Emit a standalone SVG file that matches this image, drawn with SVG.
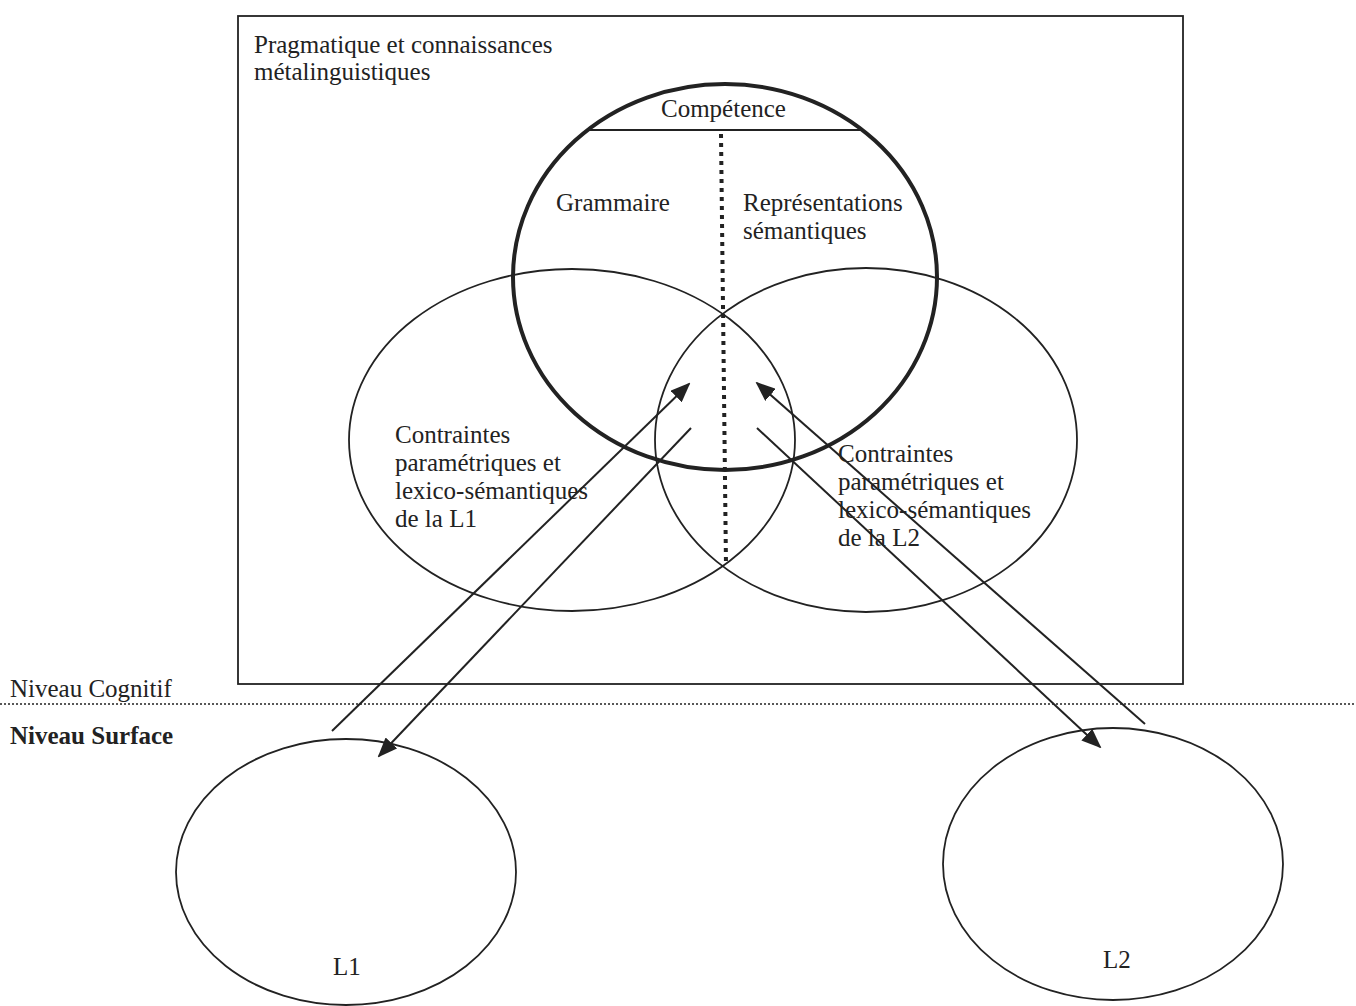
<svg xmlns="http://www.w3.org/2000/svg" width="1356" height="1006" viewBox="0 0 1356 1006">
<style>
text{font-family:"Liberation Serif","Times New Roman",serif;font-size:25px;fill:#222}
.thin{fill:none;stroke:#222;stroke-width:1.8}
.arr{fill:none;stroke:#222;stroke-width:2}
</style>
<defs>
<marker id="ah" viewBox="0 0 20 16" refX="18" refY="8" markerWidth="20" markerHeight="16" markerUnits="userSpaceOnUse" orient="auto">
<path d="M0,0 L20,8 L0,16 Z" fill="#222"/>
</marker>
</defs>
<rect width="1356" height="1006" fill="#fff"/>
<g id="cadre">
<rect x="238" y="16" width="945" height="668" class="thin" stroke-width="2"/>
<text x="254" y="53">Pragmatique et connaissances</text>
<text x="254" y="80">métalinguistiques</text>
</g>
<g id="contraintes-l1">
<ellipse cx="572" cy="440" rx="223" ry="171" class="thin"/>
<text x="395" y="443">Contraintes</text>
<text x="395" y="471">paramétriques et</text>
<text x="395" y="499">lexico-sémantiques</text>
<text x="395" y="527">de la L1</text>
</g>
<g id="contraintes-l2">
<ellipse cx="866" cy="440" rx="211" ry="172" class="thin"/>
<text x="838" y="462">Contraintes</text>
<text x="838" y="490">paramétriques et</text>
<text x="838" y="518">lexico-sémantiques</text>
<text x="838" y="546">de la L2</text>
</g>
<g id="competence">
<ellipse cx="725" cy="277" rx="212" ry="193" fill="none" stroke="#222" stroke-width="4"/>
<line x1="586" y1="130" x2="862" y2="130" class="thin"/>
<text x="661" y="117">Compétence</text>
<text x="556" y="211">Grammaire</text>
<text x="743" y="211">Représentations</text>
<text x="743" y="239">sémantiques</text>
<line x1="721" y1="134" x2="726" y2="566" stroke="#222" stroke-width="4" stroke-dasharray="4,5"/>
</g>
<g id="niveaux">
<line x1="0" y1="704" x2="1356" y2="704" stroke="#222" stroke-width="1.5" stroke-dasharray="2,2"/>
<text x="10" y="697">Niveau Cognitif</text>
<text x="10" y="744" font-weight="bold">Niveau Surface</text>
</g>
<g id="l1">
<ellipse cx="346" cy="872" rx="170" ry="133" class="thin"/>
<text x="333" y="975">L1</text>
</g>
<g id="l2">
<ellipse cx="1113" cy="864" rx="170" ry="136" class="thin"/>
<text x="1103" y="968">L2</text>
</g>
<g id="connecteurs">
<line x1="332" y1="731" x2="689" y2="384" class="arr" marker-end="url(#ah)"/>
<line x1="691" y1="428" x2="379" y2="756" class="arr" marker-end="url(#ah)"/>
<line x1="1145" y1="724" x2="757" y2="383" class="arr" marker-end="url(#ah)"/>
<line x1="757" y1="428" x2="1100" y2="747" class="arr" marker-end="url(#ah)"/>
</g>
</svg>
